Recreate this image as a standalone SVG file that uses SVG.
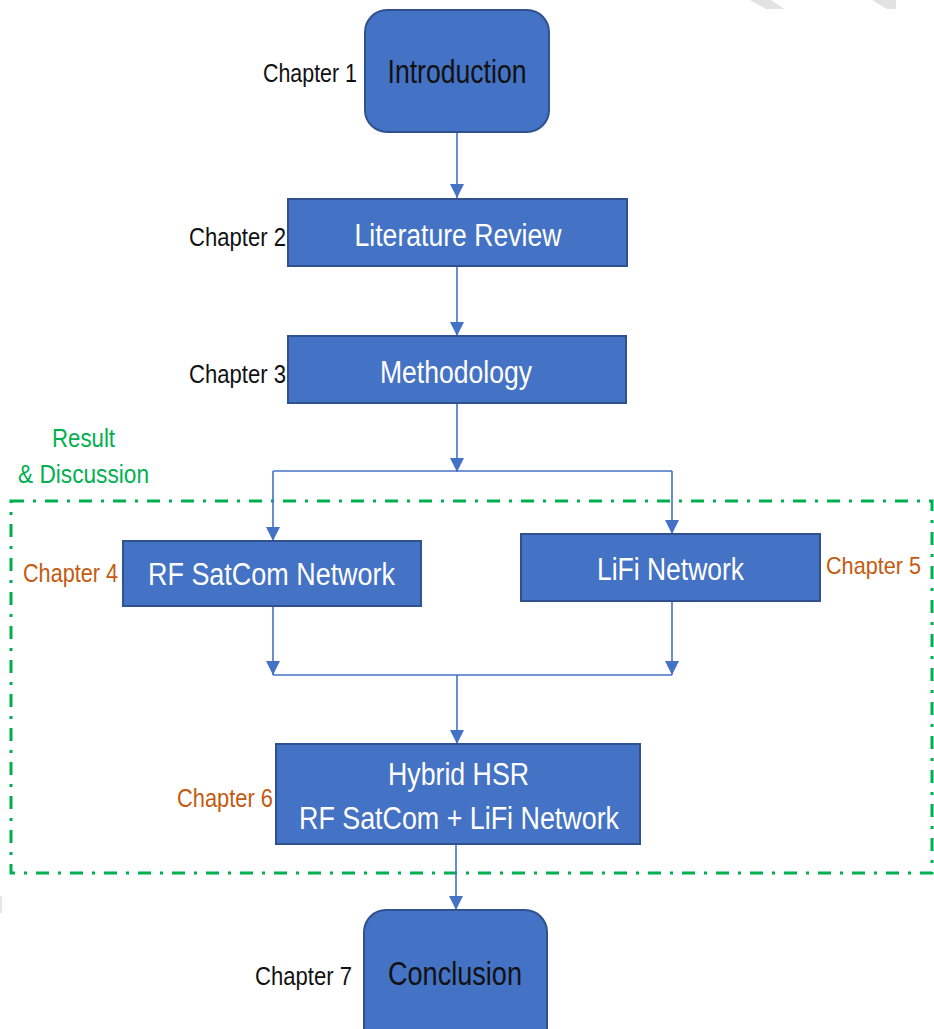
<svg xmlns="http://www.w3.org/2000/svg" width="934" height="1029" viewBox="0 0 934 1029">
  <defs>
    <marker id="arrow" markerUnits="userSpaceOnUse" markerWidth="14" markerHeight="14" refX="14" refY="7" orient="auto">
      <path d="M0,0 L14,7 L0,14 z" fill="#4472C4"/>
    </marker>
    <style>
      .box { fill: #4472C4; stroke: #2F528F; stroke-width: 2; }
      .conn { fill: none; stroke: #4472C4; stroke-width: 1.6; }
      .t { font-family: "Liberation Sans", Arial, sans-serif; }
      .white { fill: #FFFFFF; font-size: 31px; }
      .dark { fill: #111111; font-size: 34px; }
      .chap { fill: #111111; font-size: 26px; }
      .orange { fill: #C55A11; font-size: 26px; }
      .green { fill: #00B050; font-size: 26px; }
      .group { fill: none; stroke: #00B050; stroke-width: 3; stroke-dasharray: 13 9 3 9; }
    </style>
  </defs>

  <rect width="934" height="1029" fill="#FFFFFF"/>

  <!-- faint marks along the page edges -->
  <polygon points="750,0 771,0 784,9 766,9" fill="#E2E2E2"/>
  <polygon points="872,0 896,0 896,9 887,9" fill="#E2E2E2"/>
  <rect x="0" y="896" width="2" height="17" fill="#E6E6E6"/>

  <!-- Result & Discussion region -->
  <g id="result-discussion">
    <rect class="group" x="11" y="501" width="921" height="372"/>
    <text class="t green" x="52" y="447" textLength="63" lengthAdjust="spacingAndGlyphs">Result</text>
    <text class="t green" x="18" y="483" textLength="131" lengthAdjust="spacingAndGlyphs">&amp; Discussion</text>
  </g>

  <!-- connectors -->
  <g id="connectors">
    <path class="conn" d="M457,132 V198" marker-end="url(#arrow)"/>
    <path class="conn" d="M457,266 V336" marker-end="url(#arrow)"/>
    <path class="conn" d="M457,403 V472" marker-end="url(#arrow)"/>
    <path class="conn" d="M273,471 H672"/>
    <path class="conn" d="M273,471 V541" marker-end="url(#arrow)"/>
    <path class="conn" d="M672,471 V534" marker-end="url(#arrow)"/>
    <path class="conn" d="M273,606 V675" marker-end="url(#arrow)"/>
    <path class="conn" d="M672,601 V675" marker-end="url(#arrow)"/>
    <path class="conn" d="M273,675 H672"/>
    <path class="conn" d="M457,675 V744" marker-end="url(#arrow)"/>
    <path class="conn" d="M456,844 V910" marker-end="url(#arrow)"/>
  </g>

  <g id="introduction">
    <rect class="box" x="365" y="10" width="184" height="122" rx="22"/>
    <text class="t dark" x="457" y="83" text-anchor="middle" textLength="139" lengthAdjust="spacingAndGlyphs">Introduction</text>
    <text class="t chap" x="263" y="82" textLength="94" lengthAdjust="spacingAndGlyphs">Chapter 1</text>
  </g>

  <g id="literature-review">
    <rect class="box" x="288" y="199" width="339" height="67"/>
    <text class="t white" x="458" y="246" text-anchor="middle" textLength="207" lengthAdjust="spacingAndGlyphs">Literature Review</text>
    <text class="t chap" x="189" y="246" textLength="97" lengthAdjust="spacingAndGlyphs">Chapter 2</text>
  </g>

  <g id="methodology">
    <rect class="box" x="288" y="336" width="338" height="67"/>
    <text class="t white" x="456" y="383" text-anchor="middle" textLength="152" lengthAdjust="spacingAndGlyphs">Methodology</text>
    <text class="t chap" x="189" y="383" textLength="97" lengthAdjust="spacingAndGlyphs">Chapter 3</text>
  </g>

  <g id="rf-satcom">
    <rect class="box" x="123" y="541" width="298" height="65"/>
    <text class="t white" x="148" y="585" textLength="247" lengthAdjust="spacingAndGlyphs">RF SatCom Network</text>
    <text class="t orange" x="23" y="582" textLength="95" lengthAdjust="spacingAndGlyphs">Chapter 4</text>
  </g>

  <g id="lifi">
    <rect class="box" x="521" y="534" width="299" height="67"/>
    <text class="t white" x="597" y="580" textLength="147" lengthAdjust="spacingAndGlyphs">LiFi Network</text>
    <text class="t orange" x="826" y="574" font-size="24" textLength="95" lengthAdjust="spacingAndGlyphs" style="font-size:24px">Chapter 5</text>
  </g>

  <g id="hybrid">
    <rect class="box" x="276" y="744" width="364" height="100"/>
    <text class="t white" x="388" y="785" textLength="141" lengthAdjust="spacingAndGlyphs">Hybrid HSR</text>
    <text class="t white" x="299" y="829" textLength="320" lengthAdjust="spacingAndGlyphs">RF SatCom + LiFi Network</text>
    <text class="t orange" x="177" y="807" textLength="96" lengthAdjust="spacingAndGlyphs">Chapter 6</text>
  </g>

  <g id="conclusion">
    <rect class="box" x="364" y="910" width="183" height="140" rx="22"/>
    <text class="t dark" x="455" y="985" text-anchor="middle" textLength="134" lengthAdjust="spacingAndGlyphs">Conclusion</text>
    <text class="t chap" x="255" y="985" textLength="97" lengthAdjust="spacingAndGlyphs">Chapter 7</text>
  </g>
</svg>
